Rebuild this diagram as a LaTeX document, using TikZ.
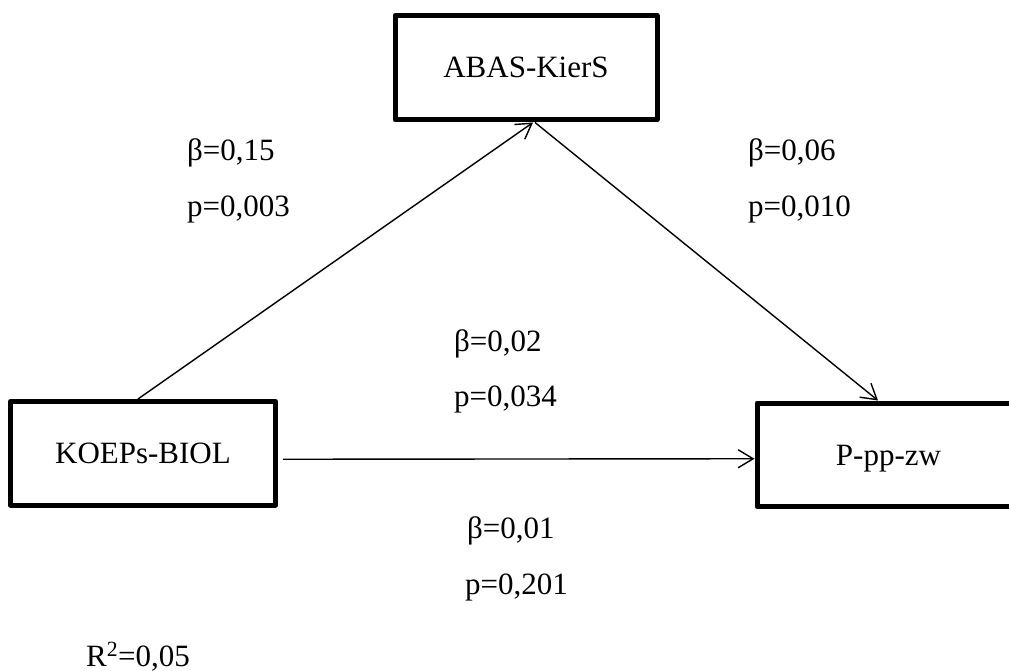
\documentclass[tikz,border=0pt]{standalone}
\usepackage{fontspec}
\setmainfont{Liberation Serif}
\usetikzlibrary{arrows.meta}
\begin{document}
\begin{tikzpicture}[x=1pt,y=-1pt,
  varbox/.style={draw, line width=5pt, line join=round, rectangle, inner sep=0pt,
    text height=20.5pt, text depth=0pt, font=\fontsize{31}{37}\selectfont},
  coef/.style={anchor=base west, inner sep=0pt, font=\fontsize{31}{37}\selectfont},
  path/.style={line width=1.4pt, -{Straight Barb[length=15pt,width=18pt,line width=1.4pt]}}]
  \useasboundingbox (0,0) rectangle (1009,671);
  \clip (0,0) rectangle (1009,671);

  % variables
  \node[varbox, minimum width=262pt, minimum height=104.5pt] (abas) at (526,67.75) {ABAS-KierS};
  \node[varbox, minimum width=265pt, minimum height=103.5pt] (koeps) at (143,453.25) {KOEPs-BIOL};
  \node[varbox, minimum width=263pt, minimum height=103.5pt] (ppzw) at (888.5,454.75) {P-pp-zw};

  % paths
  \draw[path] ([xshift=-5pt]koeps.north) -- ([xshift=7pt]abas.south);
  \draw[path] ([xshift=9pt]abas.south) -- ([xshift=-10.5pt]ppzw.north);
  \draw[path] ([xshift=5pt,yshift=-6pt]koeps.east) -- ([yshift=-4pt]ppzw.west);

  % coefficients
  \node[coef] (a1) at (187,161) {β=0,15};
  \node[coef] (a2) at (187,216) {p=0,003};
  \node[coef] (b1) at (748,161) {β=0,06};
  \node[coef] (b2) at (748,216) {p=0,010};
  \node[coef] (c1) at (454,351) {β=0,02};
  \node[coef] (c2) at (454,406) {p=0,034};
  \node[coef] (d1) at (467,538.5) {β=0,01};
  \node[coef] (d2) at (465,594) {p=0,201};
  \node[coef] (r2) at (86,666) {R\textsuperscript{2}=0,05};
\end{tikzpicture}
\end{document}
